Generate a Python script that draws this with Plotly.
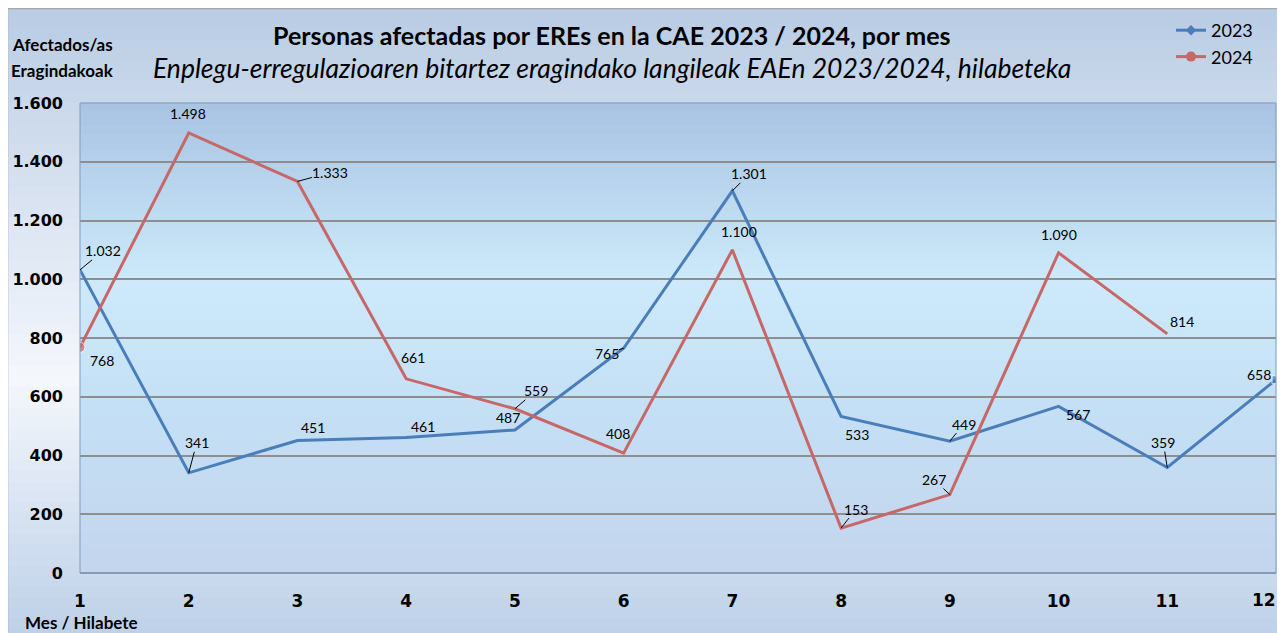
import plotly.graph_objects as go

# chart data -------------------------------------------------------------
months = [1, 2, 3, 4, 5, 6, 7, 8, 9, 10, 11, 12]
afectados_2023 = [1032, 341, 451, 461, 487, 765, 1301, 533, 449, 567, 359, 658]
afectados_2024 = [768, 1498, 1333, 661, 559, 408, 1100, 153, 267, 1090, 814]
y_ticks = [0, 200, 400, 600, 800, 1000, 1200, 1400, 1600]

title_es = "Personas afectadas por EREs en la CAE 2023 / 2024, por mes"
title_eu = "Enplegu-erregulazioaren bitartez eragindako langileak EAEn 2023/2024, hilabeteka"

# label offsets (pixels from the point) and whether a leader line is drawn
lbl_2023 = [(23, -19, 1), (8, -30, 1), (16, -13, 0), (17, -11, 0), (-7, -12, 0), (-17, 5, 1),
            (17, -17, 1), (16, 18, 0), (14, -17, 1), (19, 8, 0), (-4, -25, 1), (-17, -5, 0)]
lbl_2024 = [(22, 13, 0), (-1, -19, 0), (33, -9, 1), (7, -21, 0), (21, -18, 1), (-6, -20, 0),
            (7, -18, 0), (15, -19, 1), (-16, -15, 1), (0, -18, 0), (15, -12, 0)]

BLUE = "#4a7ebb"
RED = "#c76868"

# plot area in page pixels (the page body adds an 8px offset)
OFF = 8
L, R, T, B = 80, 1276, 103, 573
PW, PH = 1285, 633

def px_x(x):
    return (x - L) / (R - L)

def px_y(y):
    return (B - y) / (B - T)

def fmt(v):
    return f"{v:,}".replace(",", ".")

def mix(c1, c2, t):
    return "rgb(%d,%d,%d)" % tuple(round(a + (b - a) * t) for a, b in zip(c1, c2))

def gradient(stops, y_top, y_bot, x0, x1, n=60):
    # stops: list of (pixel_y, rgb) ; builds horizontal bands
    out = []
    step = (y_bot - y_top) / n
    for i in range(n):
        yc = y_top + (i + 0.5) * step
        col = mix(stops[-1][1], stops[-1][1], 0)
        for (ya, ca), (yb, cb) in zip(stops[:-1], stops[1:]):
            if ya <= yc <= yb:
                col = mix(ca, cb, (yc - ya) / (yb - ya))
                break
        out.append(dict(type="rect", xref="paper", yref="paper", layer="below",
                        x0=px_x(x0), x1=px_x(x1),
                        y0=px_y(y_top + i * step - 0.6), y1=px_y(y_top + (i + 1) * step + 0.6),
                        fillcolor=col, line=dict(width=0)))
    return out

shapes = []
# outer chart background
shapes += gradient([(8, (184, 204, 228)), (120, (205, 218, 236)), (380, (244, 247, 252)),
                    (633, (190, 209, 232))], 8, 640, 7, 1290)
# plot area background
shapes += gradient([(103, (168, 195, 226)), (280, (205, 234, 251)), (420, (196, 223, 245)),
                    (573, (196, 213, 236))], T, B, L, R)
shapes.append(dict(type="rect", xref="paper", yref="paper", layer="below",
                   x0=px_x(7.5), x1=px_x(1300), y0=px_y(650), y1=px_y(8.5),
                   fillcolor="rgba(0,0,0,0)", line=dict(color="#a6a6a6", width=1.5)))
shapes.append(dict(type="rect", xref="paper", yref="paper", layer="above",
                   x0=0, x1=1, y0=0, y1=1,
                   fillcolor="rgba(0,0,0,0)", line=dict(color="#7f9cc4", width=1)))

fig = go.Figure()

fig.add_trace(go.Scatter(
    x=months, y=afectados_2023, mode="lines+markers", showlegend=False,
    line=dict(color=BLUE, width=3),
    marker=dict(symbol="square", color=BLUE, size=[0] * 11 + [8]),
    cliponaxis=True, hoverinfo="x+y"))
fig.add_trace(go.Scatter(
    x=months[:len(afectados_2024)], y=afectados_2024, mode="lines+markers", showlegend=False,
    line=dict(color=RED, width=3),
    marker=dict(symbol="circle", color=RED, size=[10] + [0] * 10),
    cliponaxis=True, hoverinfo="x+y"))

# legend-only traces
fig.add_trace(go.Scatter(x=[None], y=[None], mode="lines+markers", name="2023",
                         line=dict(color=BLUE, width=3),
                         marker=dict(symbol="diamond", color=BLUE, size=8)))
fig.add_trace(go.Scatter(x=[None], y=[None], mode="lines+markers", name="2024",
                         line=dict(color=RED, width=3),
                         marker=dict(symbol="circle", color=RED, size=10)))

annotations = []
lbl_font = dict(family="Lato", size=14, color="#000000")
for series, offs in ((afectados_2023, lbl_2023), (afectados_2024, lbl_2024)):
    for m, v, (dx, dy, lead) in zip(months, series, offs):
        annotations.append(dict(
            x=m, y=v, xref="x", yref="y", text=fmt(v), font=lbl_font,
            showarrow=True, arrowhead=0, arrowwidth=1, standoff=0,
            arrowcolor="#000000" if lead else "rgba(0,0,0,0)",
            ax=dx, ay=dy, borderpad=0))

def page_text(x, y, text, size):
    return dict(x=px_x(x), y=px_y(y), xref="paper", yref="paper", showarrow=False,
                xanchor="center", yanchor="middle", text=text,
                font=dict(family="Lato", size=size, color="#000000"))

annotations += [
    page_text(612, 35, "<b>" + title_es + "</b>", 25),
    page_text(612, 68, "<i>" + title_eu + "</i>", 26.5),
    page_text(62, 45, "<b>Afectados/as</b>", 17),
    page_text(62, 70, "<b>Eragindakoak</b>", 17),
    page_text(81, 622, "<b>Mes / Hilabete</b>", 17),
]
# last month label sits at the right edge, keep it inside the page
annotations.append(dict(x=months[-1], y=px_y(600), xref="x", yref="paper", showarrow=False,
                        xanchor="right", yanchor="middle", xshift=2, text=str(months[-1]),
                        font=dict(family="DejaVu Sans", size=17, color="#000000", weight="bold")))

fig.update_layout(
    width=PW - OFF, height=PH - OFF,
    margin=dict(l=L - OFF, r=PW - R, t=T - OFF, b=PH - B, autoexpand=False),
    paper_bgcolor="#ffffff",
    plot_bgcolor="rgba(0,0,0,0)",
    separators=",.",
    shapes=shapes,
    annotations=annotations,
    showlegend=True,
    legend=dict(x=px_x(1171), y=px_y(12), xanchor="left", yanchor="top",
                bgcolor="rgba(0,0,0,0)", font=dict(family="Lato", size=18, color="#000000"),
                itemwidth=30, tracegroupgap=0),
    xaxis=dict(range=[1, 12], tickvals=months[:-1], showgrid=False, zeroline=False,
               showline=False, ticks="", ticklabelstandoff=16,
               automargin=False,
               tickfont=dict(family="DejaVu Sans", size=17, color="#000000", weight="bold")),
    yaxis=dict(range=[0, 1600], tickvals=y_ticks, tickformat=",d",
               showgrid=True, gridcolor="#8e8e8e", gridwidth=1.5,
               zeroline=True, zerolinecolor="#8a98aa", zerolinewidth=1.5,
               showline=False, ticks="", ticklabelstandoff=16, automargin=False,
               tickfont=dict(family="DejaVu Sans", size=16, color="#000000", weight="bold")),
)

fig.write_html("out.html")
